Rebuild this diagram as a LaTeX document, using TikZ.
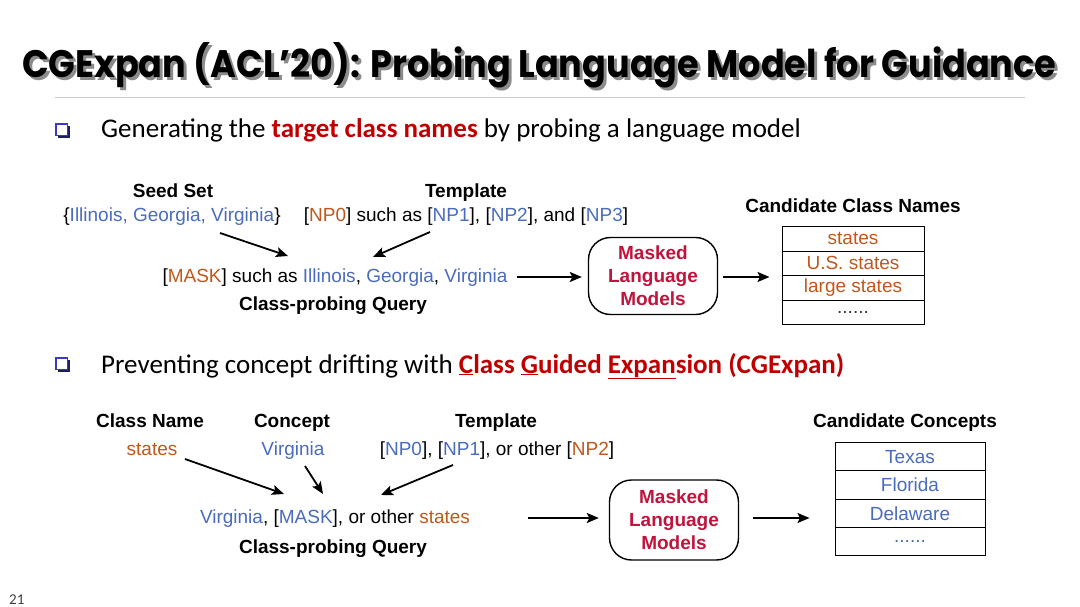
\documentclass[tikz,border=0pt]{standalone}
\usepackage{fontspec}
\setmainfont{Liberation Sans}
\newfontfamily\bulletfont{Carlito}
\newfontfamily\titlefont{Poppins}
\usetikzlibrary{arrows.meta,calc}
\definecolor{cblue}{HTML}{4A6CBE}
\definecolor{corange}{HTML}{C0581C}
\definecolor{ccrim}{HTML}{C0143C}
\definecolor{dred}{HTML}{C00000}
\definecolor{bulblue}{HTML}{3A3AC8}
\tikzset{
  lbl/.style={font=\fontsize{19}{22}\selectfont\bfseries, anchor=base, inner sep=0pt},
  txt/.style={font=\fontsize{19}{22}\selectfont, anchor=base, inner sep=0pt},
  arr/.style={-{Stealth[length=12pt,width=10pt,inset=2.5pt]}, line width=1.8pt},
  mlm/.style={draw, line width=1.4pt, rounded corners=22pt, align=center, text=ccrim,
     font=\fontsize{19}{23}\selectfont\bfseries, inner sep=0pt},
  cell/.style={draw, line width=1pt, anchor=north, inner sep=0pt,
     font=\fontsize{19}{22}\selectfont},
  bul/.style={font=\bulletfont\fontsize{27}{30}\selectfont, anchor=base west, inner sep=0pt},
}
\newcommand{\bl}[1]{\textcolor{cblue}{#1}}
\newcommand{\orr}[1]{\textcolor{corange}{#1}}
\begin{document}
\begin{tikzpicture}[x=1pt,y=-1pt]
\useasboundingbox (0,0) rectangle (1080,607);
\fill[white] (0,0) rectangle (1080,607);

% title (shadow drawn as a plain path-free copy)
\begin{scope}[opacity=0.45]
\node[anchor=base west, inner sep=0pt, text=black] (titleshadow) at (25,81)
  {\resizebox{1034pt}{35pt}{\titlefont\bfseries CGExpan (ACL’20): Probing Language Model for Guidance}};
\end{scope}
\node[anchor=base west, inner sep=0pt] (title) at (22,78)
  {\resizebox{1034pt}{35pt}{\titlefont\bfseries CGExpan (ACL’20): Probing Language Model for Guidance}};
\draw[black!20, line width=0.8pt] (55,97) -- (1025,97);

% bullets
\fill[bulblue!50!black] (58,126) rectangle (70,138);
\draw[bulblue, fill=white, line width=1.6pt] (56,124) rectangle (67.5,135.5);
\node[bul] (b1) at (101,138) {Generating the \textcolor{dred}{\bfseries target class names} by probing a language model};

\fill[bulblue!50!black] (58,360) rectangle (70,372);
\draw[bulblue, fill=white, line width=1.6pt] (56,358) rectangle (67.5,369.5);
\node[bul] (b2) at (101,373) {Preventing concept drifting with \textcolor{dred}{\bfseries\underline{C}lass \underline{G}uided \underline{Expan}sion (CGExpan)}};

% ---------- top diagram ----------
\node[lbl] (seedh) at (173,197) {Seed Set};
\node[txt] (seed) at (172,222) {\{\bl{Illinois, Georgia, Virginia}\}};
\node[lbl] (temph) at (466,197) {Template};
\node[txt] (temp) at (466,222) {[\orr{NP0}] such as [\bl{NP1}], [\bl{NP2}], and [\bl{NP3}]};
\node[txt] (q1) at (335,282) {[\orr{MASK}] such as \bl{Illinois}, \bl{Georgia}, \bl{Virginia}};
\node[lbl] (q1h) at (333,310) {Class-probing Query};

\coordinate (s1t) at (220,233);
\coordinate (s1h) at (288,256);
\coordinate (t1t) at (430,232);
\coordinate (t1h) at (373,257);
\draw[arr] (s1t) -- (s1h);
\draw[arr] (t1t) -- (t1h);

\node[mlm, minimum width=129pt, minimum height=77pt] (mlm1) at (653,276) {Masked\\Language\\Models};
\coordinate (q1a) at (517,277);
\draw[arr, shorten >=6pt] (q1a) -- (q1a -| mlm1.west);

\node[lbl] (cch) at (853,213) {Candidate Class Names};
\node[cell, minimum width=142pt, minimum height=24.5pt, text=corange] (c1) at (853,226) {states};
\node[cell, minimum width=142pt, minimum height=24.5pt, text=corange] (c2) at (853,250.5) {U.S. states};
\node[cell, minimum width=142pt, minimum height=24.5pt, text=corange] (c3) at (853,275) {large states};
\node[cell, minimum width=142pt, minimum height=24.5pt, text=black!80] (c4) at (853,299.5) {......};
\draw[arr, shorten <=5pt, shorten >=12pt] (mlm1.east |- q1a) -- (c3.west |- q1a);

% ---------- bottom diagram ----------
\node[lbl] (cnh) at (150,427) {Class Name};
\node[txt, text=corange] (cn) at (152,455) {states};
\node[lbl] (conh) at (292,427) {Concept};
\node[txt, text=cblue] (con) at (293,455) {Virginia};
\node[lbl] (temph2) at (496,427) {Template};
\node[txt] (temp2) at (497,455) {[\bl{NP0}], [\bl{NP1}], or other [\orr{NP2}]};
\node[txt] (q2) at (335,523) {\bl{Virginia}, [\bl{MASK}], or other \orr{states}};
\node[lbl] (q2h) at (333,553) {Class-probing Query};

\coordinate (a1t) at (185,459);
\coordinate (a1h) at (284,494);
\coordinate (a2t) at (305,466);
\coordinate (a2h) at (323,494);
\coordinate (a3t) at (453,465);
\coordinate (a3h) at (381,495);
\draw[arr] (a1t) -- (a1h);
\draw[arr] (a2t) -- (a2h);
\draw[arr] (a3t) -- (a3h);

\node[mlm, minimum width=129pt, minimum height=80pt] (mlm2) at (674,520) {Masked\\Language\\Models};
\coordinate (q2a) at (528,518);
\draw[arr, shorten >=10pt] (q2a) -- (q2a -| mlm2.west);

\node[lbl] (cch2) at (905,427) {Candidate Concepts};
\node[cell, minimum width=150pt, minimum height=28.3pt, text=cblue] (d1) at (910,442) {Texas};
\node[cell, minimum width=150pt, minimum height=28.3pt, text=cblue] (d2) at (910,470.3) {Florida};
\node[cell, minimum width=150pt, minimum height=28.3pt, text=cblue] (d3) at (910,498.6) {Delaware};
\node[cell, minimum width=150pt, minimum height=28.3pt, text=cblue] (d4) at (910,526.9) {......};
\draw[arr, shorten <=14pt, shorten >=25pt] (mlm2.east |- q2a) -- (d3.west |- q2a);

% page number
\node[anchor=base west, inner sep=0pt, font=\bulletfont\fontsize{15}{17}\selectfont, text=black!75] (pg) at (9,604) {21};
\end{tikzpicture}
\end{document}
